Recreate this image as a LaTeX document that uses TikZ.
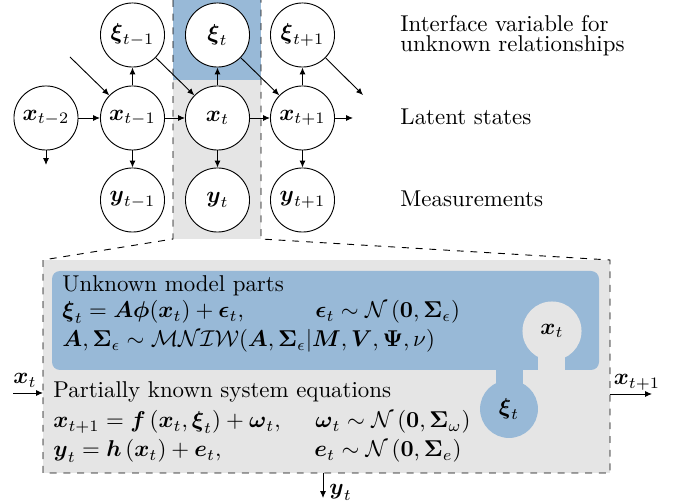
\documentclass[tikz,border=0pt]{standalone}
\usepackage{amsmath,amssymb}
\usetikzlibrary{arrows.meta}
\definecolor{blueC}{RGB}{152,185,215}
\definecolor{greyC}{RGB}{229,229,229}
\newcommand{\bs}[1]{\boldsymbol{#1}}
\tikzset{
  var/.style={circle,draw,fill=white,minimum size=28pt,inner sep=0pt},
  arr/.style={-{Latex[length=3pt,width=2.6pt]}},
  txt/.style={anchor=base west,inner sep=0pt},
  lbl/.style={anchor=base,inner sep=0pt}
}
\begin{document}
\begin{tikzpicture}[x=0.437pt,y=-0.437pt]
\useasboundingbox (0,0) rectangle (686,502);
% background fills
\fill[blueC] (173,0) rectangle (261,80);
\fill[greyC] (173,80) rectangle (261,239);
\fill[greyC] (43,260) rectangle (610,473);
\fill[blueC,rounded corners=3.5pt] (52,271) rectangle (599,370);
\fill[greyC] (538,331) rectangle (565,371);
\node[circle,fill=greyC,minimum size=25.8pt,inner sep=0pt] (kx) at (552,331) {$\bs{x}_t$};
\fill[blueC] (496,369) rectangle (523,409);
\node[circle,fill=blueC,minimum size=25.3pt,inner sep=0pt] (kxi) at (509,409) {$\bs{\xi}_t$};
% dashed outline
\draw[dashed] (173,0) -- (173,239) -- (43,260) -- (43,473) -- (610,473) -- (610,260) -- (261,239) -- (261,0);
% graph nodes
\node[var] (xm2) at (46,118) {$\bs{x}_{t-2}$};
\node[var] (xm1) at (132.5,118) {$\bs{x}_{t-1}$};
\node[var] (x0) at (217.5,118) {$\bs{x}_{t}$};
\node[var] (xp1) at (302.5,118) {$\bs{x}_{t+1}$};
\node[var] (sm1) at (132.5,35) {$\bs{\xi}_{t-1}$};
\node[var] (s0) at (217.5,35) {$\bs{\xi}_{t}$};
\node[var] (sp1) at (302.5,35) {$\bs{\xi}_{t+1}$};
\node[var] (ym1) at (132.5,200) {$\bs{y}_{t-1}$};
\node[var] (y0) at (217.5,200) {$\bs{y}_{t}$};
\node[var] (yp1) at (302.5,200) {$\bs{y}_{t+1}$};
\coordinate (in1) at (70,57);
\coordinate (xm2d) at (46,165);
\coordinate (xout) at (353,118);
\coordinate (sout) at (363,95);
% graph arrows
\draw[arr] (xm2) -- (xm1);
\draw[arr] (xm1) -- (x0);
\draw[arr] (x0) -- (xp1);
\draw[arr] (xp1) -- (xout);
\draw[arr] (xm2) -- (xm2d);
\draw[arr] (in1) -- (xm1);
\draw[arr] (sm1) -- (x0);
\draw[arr] (s0) -- (xp1);
\draw[arr] (sp1) -- (sout);
\draw[arr] (xm1) -- (sm1);
\draw[arr] (x0) -- (s0);
\draw[arr] (xp1) -- (sp1);
\draw[arr] (xm1) -- (ym1);
\draw[arr] (x0) -- (y0);
\draw[arr] (xp1) -- (yp1);
% right labels
\node[txt] (l1) at (400,32) {Interface variable for};
\node[txt] (l2) at (400,52) {unknown relationships};
\node[txt] (l3) at (400,125) {Latent states};
\node[txt] (l4) at (400,207) {Measurements};
% lower box text
\node[txt] (u0) at (62,292) {Unknown model parts};
\node[txt] (u1) at (62,318) {$\bs{\xi}_t = \bs{A}\bs{\phi}(\bs{x}_t) + \bs{\epsilon}_t,$};
\node[txt] (u1r) at (315,318) {$\bs{\epsilon}_t \sim \mathcal{N}\left(\mathbf{0}, \bs{\Sigma}_\epsilon\right)$};
\node[txt] (u2) at (62,347) {$\bs{A}, \bs{\Sigma}_\epsilon \sim \mathcal{MNIW}(\bs{A}, \bs{\Sigma}_\epsilon | \bs{M}, \bs{V}, \bs{\Psi}, \nu)$};
\node[txt] (p0) at (53,398) {Partially known system equations};
\node[txt] (p1) at (53,428) {$\bs{x}_{t+1} = \bs{f}\left(\bs{x}_t, \bs{\xi}_t\right) + \bs{\omega}_t,$};
\node[txt] (p1r) at (315,428) {$\bs{\omega}_t \sim \mathcal{N}\left(\mathbf{0}, \bs{\Sigma}_\omega\right)$};
\node[txt] (p2) at (53,457) {$\bs{y}_t = \bs{h}\left(\bs{x}_t\right) + \bs{e}_t,$};
\node[txt] (p2r) at (314,457) {$\bs{e}_t \sim \mathcal{N}\left(\mathbf{0}, \bs{\Sigma}_e\right)$};
% box inputs and outputs
\coordinate (inA) at (13,393);
\coordinate (inB) at (43,393);
\coordinate (outA) at (610,394);
\coordinate (outB) at (652,394);
\coordinate (dnA) at (323,473);
\coordinate (dnB) at (323,498);
\draw[arr] (inA) -- (inB);
\draw[arr] (outA) -- (outB);
\draw[arr] (dnA) -- (dnB);
\node[lbl] (lxin) at (25,384) {$\bs{x}_t$};
\node[lbl] (lxout) at (637,385) {$\bs{x}_{t+1}$};
\node[txt] (lyout) at (329,495) {$\bs{y}_t$};
\end{tikzpicture}
\end{document}
